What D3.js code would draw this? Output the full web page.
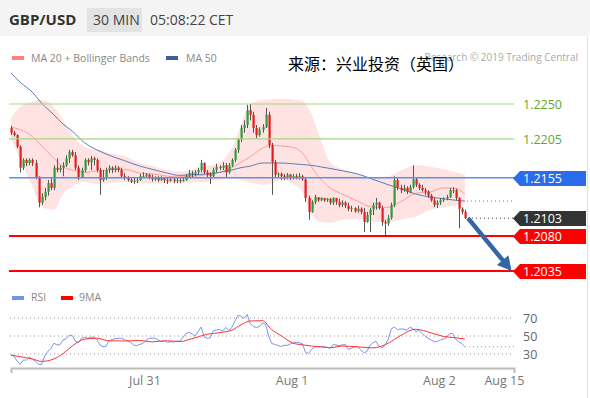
<!DOCTYPE html>
<html>
<head>
<meta charset="utf-8">
<script src="https://cdn.jsdelivr.net/npm/d3@7"></script>
<style>
html, body { margin: 0; padding: 0; background: #fff; }
svg { display: block; font-family: "Open Sans", "DejaVu Sans", sans-serif; }
</style>
</head>
<body>
<svg id="chart" width="590" height="398"></svg>
<script>
// ---- data (GBP/USD, 30 min candles) ----
var firstOpen = 1.2219;
var closes = [
  1.2213, 1.2210, 1.2195, 1.2168, 1.2178, 1.2174, 1.2178, 1.2174, 1.2156, 1.2123,
  1.2130, 1.2137, 1.2148, 1.2142, 1.2168, 1.2165, 1.2168, 1.2171, 1.2180, 1.2188,
  1.2184, 1.2168, 1.2156, 1.2165, 1.2178, 1.2175, 1.2180, 1.2178, 1.2165, 1.2152,
  1.2156, 1.2165, 1.2168, 1.2165, 1.2168, 1.2165, 1.2157, 1.2155, 1.2152, 1.2150,
  1.2151, 1.2152, 1.2157, 1.2157, 1.2159, 1.2156, 1.2153, 1.2155, 1.2152, 1.2155,
  1.2152, 1.2151, 1.2153, 1.2151, 1.2152, 1.2151, 1.2152, 1.2157, 1.2161, 1.2160,
  1.2162, 1.2165, 1.2174, 1.2162, 1.2159, 1.2157, 1.2165, 1.2169, 1.2168, 1.2171,
  1.2162, 1.2171, 1.2178, 1.2191, 1.2204, 1.2219, 1.2223, 1.2242, 1.2236, 1.2219,
  1.2210, 1.2217, 1.2220, 1.2236, 1.2197, 1.2175, 1.2159, 1.2160, 1.2157, 1.2156,
  1.2159, 1.2155, 1.2157, 1.2156, 1.2157, 1.2153, 1.2129, 1.2111, 1.2124, 1.2130,
  1.2126, 1.2129, 1.2126, 1.2128, 1.2123, 1.2129, 1.2124, 1.2120, 1.2123, 1.2119,
  1.2115, 1.2116, 1.2112, 1.2115, 1.2111, 1.2098, 1.2107, 1.2114, 1.2120, 1.2123,
  1.2116, 1.2098, 1.2096, 1.2103, 1.2120, 1.2152, 1.2142, 1.2139, 1.2142, 1.2137,
  1.2143, 1.2153, 1.2146, 1.2142, 1.2139, 1.2137, 1.2132, 1.2126, 1.2120, 1.2123,
  1.2126, 1.2128, 1.2130, 1.2139, 1.2139, 1.2129, 1.2115, 1.2111, 1.2103
];
var highs = [
  1.2222, 1.2215, 1.2211, 1.2197, 1.2180, 1.2180, 1.2180, 1.2180, 1.2178, 1.2157,
  1.2135, 1.2142, 1.2152, 1.2155, 1.2171, 1.2180, 1.2171, 1.2175, 1.2184, 1.2191,
  1.2191, 1.2188, 1.2171, 1.2168, 1.2180, 1.2180, 1.2183, 1.2182, 1.2180, 1.2168,
  1.2165, 1.2168, 1.2171, 1.2170, 1.2171, 1.2170, 1.2168, 1.2161, 1.2157, 1.2156,
  1.2155, 1.2155, 1.2160, 1.2162, 1.2161, 1.2160, 1.2159, 1.2157, 1.2157, 1.2157,
  1.2156, 1.2155, 1.2156, 1.2155, 1.2155, 1.2155, 1.2156, 1.2160, 1.2165, 1.2164,
  1.2165, 1.2168, 1.2178, 1.2175, 1.2165, 1.2162, 1.2168, 1.2173, 1.2171, 1.2175,
  1.2174, 1.2174, 1.2180, 1.2193, 1.2206, 1.2223, 1.2229, 1.2249, 1.2250, 1.2240,
  1.2223, 1.2220, 1.2224, 1.2245, 1.2240, 1.2200, 1.2178, 1.2162, 1.2162, 1.2160,
  1.2161, 1.2160, 1.2160, 1.2160, 1.2161, 1.2159, 1.2156, 1.2132, 1.2126, 1.2133,
  1.2130, 1.2130, 1.2129, 1.2129, 1.2129, 1.2130, 1.2129, 1.2128, 1.2126, 1.2125,
  1.2123, 1.2119, 1.2117, 1.2119, 1.2117, 1.2116, 1.2111, 1.2116, 1.2123, 1.2129,
  1.2124, 1.2119, 1.2101, 1.2107, 1.2123, 1.2157, 1.2156, 1.2146, 1.2146, 1.2144,
  1.2146, 1.2171, 1.2156, 1.2148, 1.2146, 1.2142, 1.2139, 1.2134, 1.2129, 1.2126,
  1.2129, 1.2130, 1.2133, 1.2142, 1.2143, 1.2141, 1.2130, 1.2117, 1.2114
];
var lows = [
  1.2210, 1.2208, 1.2193, 1.2162, 1.2165, 1.2170, 1.2171, 1.2170, 1.2153, 1.2117,
  1.2120, 1.2126, 1.2132, 1.2139, 1.2139, 1.2162, 1.2162, 1.2157, 1.2169, 1.2174,
  1.2182, 1.2165, 1.2152, 1.2155, 1.2162, 1.2171, 1.2165, 1.2171, 1.2162, 1.2133,
  1.2150, 1.2152, 1.2161, 1.2161, 1.2162, 1.2162, 1.2155, 1.2152, 1.2150, 1.2148,
  1.2147, 1.2148, 1.2151, 1.2155, 1.2155, 1.2153, 1.2150, 1.2151, 1.2150, 1.2151,
  1.2148, 1.2147, 1.2150, 1.2148, 1.2148, 1.2148, 1.2150, 1.2151, 1.2155, 1.2156,
  1.2157, 1.2159, 1.2162, 1.2160, 1.2156, 1.2147, 1.2156, 1.2162, 1.2165, 1.2165,
  1.2156, 1.2160, 1.2169, 1.2175, 1.2187, 1.2201, 1.2213, 1.2219, 1.2229, 1.2213,
  1.2206, 1.2208, 1.2213, 1.2219, 1.2193, 1.2133, 1.2156, 1.2155, 1.2152, 1.2152,
  1.2153, 1.2152, 1.2153, 1.2153, 1.2153, 1.2151, 1.2124, 1.2101, 1.2110, 1.2121,
  1.2124, 1.2125, 1.2124, 1.2124, 1.2120, 1.2120, 1.2120, 1.2117, 1.2117, 1.2116,
  1.2112, 1.2111, 1.2110, 1.2110, 1.2108, 1.2085, 1.2097, 1.2085, 1.2107, 1.2114,
  1.2114, 1.2093, 1.2079, 1.2093, 1.2101, 1.2117, 1.2139, 1.2135, 1.2137, 1.2134,
  1.2135, 1.2141, 1.2143, 1.2139, 1.2137, 1.2133, 1.2129, 1.2124, 1.2117, 1.2116,
  1.2120, 1.2124, 1.2126, 1.2129, 1.2135, 1.2126, 1.2090, 1.2108, 1.2102
];
var rsi = [
  28.9, 27.5, 22.0, 18.5, 23.3, 23.3, 26.5, 24.0, 22.0, 18.5,
  18.5, 28.0, 33.0, 36.0, 42.0, 40.0, 40.5, 45.5, 47.0, 51.0,
  50.5, 44.0, 42.5, 47.5, 48.5, 47.5, 48.3, 49.0, 46.0, 40.0,
  38.1, 38.5, 45.0, 46.0, 47.0, 47.4, 47.6, 46.0, 44.2, 43.0,
  40.0, 39.3, 40.7, 41.8, 45.0, 47.5, 47.6, 47.4, 45.5, 44.0,
  45.0, 43.0, 43.6, 43.2, 44.3, 44.4, 48.0, 52.5, 54.0, 52.5,
  50.0, 55.0, 60.0, 49.0, 47.4, 48.1, 56.0, 56.7, 57.3, 55.3,
  59.5, 56.5, 59.5, 66.5, 73.0, 72.0, 69.6, 74.0, 64.1, 60.5,
  59.5, 60.3, 64.5, 63.0, 50.0, 41.7, 40.7, 39.5, 38.3, 39.8,
  39.5, 41.0, 42.5, 43.0, 42.5, 41.5, 32.0, 30.5, 35.0, 38.0,
  38.1, 38.1, 38.1, 37.5, 36.3, 40.5, 40.0, 39.3, 40.2, 40.5,
  35.0, 36.5, 38.1, 38.1, 35.0, 31.5, 32.6, 39.5, 42.5, 44.2,
  38.5, 37.0, 40.0, 46.5, 58.0, 60.0, 57.0, 57.8, 57.8, 56.5,
  59.5, 58.5, 54.8, 56.5, 53.0, 49.5, 47.5, 45.5, 43.5, 44.0,
  45.6, 46.5, 48.5, 52.5, 53.0, 46.5, 43.5, 41.5, 38.1
];

// indicator lines, sampled at these candle indices
var indIdx = [0, 3, 7, 10, 14, 17, 20, 24, 28, 32, 37, 42, 46, 51, 55, 59, 64, 68, 72, 75,
  78, 82, 85, 88, 92, 95, 98, 101, 104, 108, 113, 118, 123, 127, 132, 137, 141, 145, 148];
var ma50 = [1.2290, 1.2278, 1.2265, 1.2251, 1.2236, 1.2224, 1.2215, 1.2200, 1.2191, 1.2184,
  1.2177, 1.2170, 1.2166, 1.2161, 1.2158, 1.2159, 1.2160, 1.2162, 1.2165, 1.2168,
  1.2170, 1.2174, 1.2174, 1.2174, 1.2173, 1.2172, 1.2171, 1.2169, 1.2167, 1.2164,
  1.2160, 1.2153, 1.2146, 1.2141, 1.2134, 1.2130, 1.2128, 1.2126, 1.2125];
var ma20 = [1.2220, 1.2217, 1.2208, 1.2196, 1.2180, 1.2169, 1.2165, 1.2162, 1.2164, 1.2165,
  1.2166, 1.2161, 1.2160, 1.2157, 1.2156, 1.2157, 1.2159, 1.2162, 1.2168, 1.2175,
  1.2182, 1.2193, 1.2197, 1.2196, 1.2194, 1.2187, 1.2169, 1.2153, 1.2142, 1.2134,
  1.2125, 1.2117, 1.2117, 1.2124, 1.2135, 1.2137, 1.2142, 1.2141, 1.2134];
var bbUpper = [1.2232, 1.2246, 1.2253, 1.2255, 1.2246, 1.2229, 1.2210, 1.2195, 1.2191, 1.2187,
  1.2183, 1.2174, 1.2170, 1.2165, 1.2163, 1.2165, 1.2170, 1.2175, 1.2193, 1.2223,
  1.2250, 1.2255, 1.2256, 1.2257, 1.2256, 1.2254, 1.2237, 1.2204, 1.2175, 1.2166,
  1.2160, 1.2155, 1.2157, 1.2164, 1.2171, 1.2169, 1.2166, 1.2162, 1.2159];
var bbLower = [1.2206, 1.2178, 1.2144, 1.2117, 1.2114, 1.2134, 1.2144, 1.2150, 1.2147, 1.2148,
  1.2150, 1.2148, 1.2148, 1.2148, 1.2148, 1.2149, 1.2150, 1.2152, 1.2154, 1.2152,
  1.2149, 1.2146, 1.2148, 1.2152, 1.2147, 1.2137, 1.2108, 1.2098, 1.2097, 1.2101,
  1.2102, 1.2099, 1.2098, 1.2101, 1.2105, 1.2114, 1.2117, 1.2120, 1.2123];
var rsiMa = [28.9, 27.0, 24.5, 21.8, 24.5, 30.5, 39.0, 46.5, 47.5, 44.6,
  44.5, 45.0, 43.5, 44.7, 43.8, 47.0, 52.0, 53.7, 56.5, 62.5,
  66.7, 67.0, 57.0, 50.5, 42.0, 40.2, 38.8, 38.0, 37.0, 38.8,
  38.0, 36.8, 42.0, 50.5, 57.5, 53.5, 49.5, 48.0, 46.7];

var tickIdx = [43.5, 91.5, 139.5, 160.7];
var tickLabels = ["Jul 31", "Aug 1", "Aug 2", "Aug 15"];
var levelPrices = [1.2250, 1.2205, 1.2155, 1.2103, 1.2080, 1.2035];
var levelKinds = ["res", "res", "ma", "last", "sup", "sup"];
var rsiLevels = [70, 50, 30];
var arrowFrom = { i: 149, p: 1.2103 };
var arrowTo = { i: 163.2, p: 1.2035 };

// ---- drawing ----
var W = 590, H = 398;
var svg = d3.select("#chart");

var x = d3.scaleLinear().domain([0, 164]).range([11, 514]);
var y = d3.scaleLinear().domain([1.2080, 1.2250]).range([236, 104]);
var yr = d3.scaleLinear().domain([30, 70]).range([354, 318]);

// header bar
svg.append("rect").attr("width", W).attr("height", 36).attr("fill", "#f4f4f4");
svg.append("text").attr("x", 9).attr("y", 25).text("GBP/USD")
  .attr("fill", "#333").style("font-size", "15px").style("font-weight", "bold");
svg.append("rect").attr("x", 87).attr("y", 8).attr("width", 55).attr("height", 24).attr("fill", "#e3e3e3");
svg.append("text").attr("x", 93).attr("y", 25).text("30 MIN").attr("fill", "#444").style("font-size", "14px");
svg.append("text").attr("x", 150).attr("y", 25).text("05:08:22 CET").attr("fill", "#444").style("font-size", "14px");
svg.append("line").attr("x1", 587.5).attr("x2", 587.5).attr("y1", 36).attr("y2", H)
  .attr("stroke", "#e2e2e2");

// legend
var legend = svg.append("g").style("font-size", "10.5px").attr("fill", "#888");
legend.append("rect").attr("x", 12).attr("y", 56).attr("width", 12).attr("height", 4).attr("fill", "#ff8080");
legend.append("text").attr("x", 31).attr("y", 62).text("MA 20 + Bollinger Bands");
legend.append("rect").attr("x", 166).attr("y", 56).attr("width", 12).attr("height", 4).attr("fill", "#3b5f9f");
legend.append("text").attr("x", 186).attr("y", 62).text("MA 50");

svg.append("text").attr("x", 578).attr("y", 61).attr("text-anchor", "end")
  .text("Research \u00a9 2019 Trading Central").attr("fill", "#aaa").style("font-size", "10px");
svg.append("text").attr("x", 288).attr("y", 70).text("来源：兴业投资（英国）")
  .attr("fill", "#000").style("font-size", "16px")
  .style("font-family", "'Noto Sans CJK SC', sans-serif");

// main panel
svg.append("clipPath").attr("id", "mainClip").append("rect")
  .attr("x", 9).attr("y", 72).attr("width", 505).attr("height", 215);
var main = svg.append("g").attr("clip-path", "url(#mainClip)");

var ind = indIdx.map(function (i, k) {
  return { i: i, ma20: ma20[k], ma50: ma50[k], up: bbUpper[k], lo: bbLower[k], rma: rsiMa[k] };
});

main.append("path").datum(ind)
  .attr("fill", "#ffd9d9").attr("fill-opacity", 0.75)
  .attr("d", d3.area().curve(d3.curveMonotoneX)
    .x(function (d) { return x(d.i); })
    .y0(function (d) { return y(d.lo); })
    .y1(function (d) { return y(d.up); }));

// horizontal levels
var levels = levelPrices.map(function (p, k) { return { p: p, kind: levelKinds[k] }; });
var lineColor = { res: "#a5d57f", ma: "#5b8ff0", sup: "#ff0000" };
var lineWidth = { res: 1.2, ma: 1.5, sup: 2 };
svg.append("g").selectAll("line")
  .data(levels.filter(function (d) { return d.kind !== "last"; }))
  .join("line")
  .attr("x1", 9).attr("x2", 514)
  .attr("y1", function (d) { return y(d.p); })
  .attr("y2", function (d) { return y(d.p); })
  .attr("stroke", function (d) { return lineColor[d.kind]; })
  .attr("stroke-width", function (d) { return lineWidth[d.kind]; });

// moving averages
main.append("path").datum(ind)
  .attr("fill", "none").attr("stroke", "#ff9a9a").attr("stroke-width", 1)
  .attr("d", d3.line().curve(d3.curveMonotoneX)
    .x(function (d) { return x(d.i); }).y(function (d) { return y(d.ma20); }));
main.append("path").datum(ind)
  .attr("fill", "none").attr("stroke", "#5a7cbc").attr("stroke-width", 1)
  .attr("d", d3.line().curve(d3.curveMonotoneX)
    .x(function (d) { return x(d.i); }).y(function (d) { return y(d.ma50); }));

// candles
var candles = closes.map(function (c, i) {
  return { i: i, o: i ? closes[i - 1] : firstOpen, c: c, h: highs[i], l: lows[i] };
});
var cg = main.append("g").selectAll("g").data(candles).join("g");
cg.append("line")
  .attr("x1", function (d) { return Math.round(x(d.i)) + 0.5; })
  .attr("x2", function (d) { return Math.round(x(d.i)) + 0.5; })
  .attr("y1", function (d) { return y(d.h); })
  .attr("y2", function (d) { return y(d.l); })
  .attr("stroke", "#555").attr("stroke-width", 1);
cg.append("rect")
  .attr("x", function (d) { return Math.round(x(d.i)) - 0.5; })
  .attr("width", 2.2)
  .attr("y", function (d) { return y(Math.max(d.o, d.c)); })
  .attr("height", function (d) { return Math.max(1, Math.abs(y(d.o) - y(d.c))); })
  .attr("fill", function (d) { return d.c >= d.o ? "#2f9a3a" : "#e41c1c"; });

// projections from the last candle
var last = ind[ind.length - 1];
svg.append("line").attr("x1", x(last.i) + 2).attr("x2", 514)
  .attr("y1", y(last.ma50)).attr("y2", y(last.ma50))
  .attr("stroke", "#5a7cbc").attr("stroke-dasharray", "1,3");
svg.append("line").attr("x1", x(148) + 3).attr("x2", 514)
  .attr("y1", y(closes[148])).attr("y2", y(closes[148]))
  .attr("stroke", "#333").attr("stroke-dasharray", "1,3");

// level labels on the right
var boxColor = { ma: "#2b6cec", last: "#333333", sup: "#ff0000" };
var lab = svg.append("g").style("font-size", "12.5px");
levels.forEach(function (d) {
  var cy = Math.round(y(d.p)) + 0.5;
  if (d.kind === "res") {
    lab.append("text").attr("x", 523).attr("y", cy + 4.5).text(d.p.toFixed(4)).attr("fill", "#5ea82d");
  } else {
    lab.append("path")
      .attr("d", "M513," + cy + "L520," + (cy - 7.5) + "L586," + (cy - 7.5) + "L586," + (cy + 7.5) + "L520," + (cy + 7.5) + "Z")
      .attr("fill", boxColor[d.kind]);
    lab.append("text").attr("x", 523).attr("y", cy + 4.5).text(d.p.toFixed(4)).attr("fill", "#fff");
  }
});

// forecast arrow
var ax0 = x(arrowFrom.i), ay0 = y(arrowFrom.p), ax1 = x(arrowTo.i), ay1 = y(arrowTo.p);
var len = Math.hypot(ax1 - ax0, ay1 - ay0), ux = (ax1 - ax0) / len, uy = (ay1 - ay0) / len;
var headL = 14, headW = 7.5;
svg.append("line").attr("x1", ax0).attr("y1", ay0)
  .attr("x2", ax1 - ux * (headL - 2)).attr("y2", ay1 - uy * (headL - 2))
  .attr("stroke", "#3566a6").attr("stroke-width", 4.5);
svg.append("path")
  .attr("d", "M" + ax1 + "," + ay1 +
    "L" + (ax1 - ux * headL - uy * headW) + "," + (ay1 - uy * headL + ux * headW) +
    "L" + (ax1 - ux * headL + uy * headW) + "," + (ay1 - uy * headL - ux * headW) + "Z")
  .attr("fill", "#3566a6");

// RSI panel
var rl = svg.append("g").style("font-size", "10.5px").attr("fill", "#888");
rl.append("rect").attr("x", 12).attr("y", 296).attr("width", 12).attr("height", 4).attr("fill", "#7094e6");
rl.append("text").attr("x", 31).attr("y", 301).text("RSI");
rl.append("rect").attr("x", 61).attr("y", 296).attr("width", 12).attr("height", 4).attr("fill", "#ff0000");
rl.append("text").attr("x", 79).attr("y", 301).text("9MA");

svg.append("g").selectAll("line").data(rsiLevels).join("line")
  .attr("x1", 10).attr("x2", 514)
  .attr("y1", function (d) { return yr(d); }).attr("y2", function (d) { return yr(d); })
  .attr("stroke", "#999").attr("stroke-dasharray", "1,3");
svg.append("g").selectAll("text").data(rsiLevels).join("text")
  .attr("x", 523).attr("y", function (d) { return yr(d) + 4.5; })
  .text(function (d) { return d; })
  .attr("fill", "#666").style("font-size", "12.5px");

svg.append("path").datum(rsi)
  .attr("fill", "none").attr("stroke", "#7897e8").attr("stroke-width", 1)
  .attr("d", d3.line().x(function (d, i) { return x(i); }).y(function (d) { return yr(d); }));
svg.append("line").attr("x1", x(148)).attr("x2", 514)
  .attr("y1", yr(rsi[148])).attr("y2", yr(rsi[148]))
  .attr("stroke", "#7897e8").attr("stroke-dasharray", "1,3");
svg.append("path").datum(ind)
  .attr("fill", "none").attr("stroke", "#ff3333").attr("stroke-width", 1)
  .attr("d", d3.line().curve(d3.curveMonotoneX)
    .x(function (d) { return x(d.i); }).y(function (d) { return yr(d.rma); }));

// time axis
var xAxis = d3.axisBottom(x)
  .tickValues(tickIdx)
  .tickFormat(function (d, k) { return tickLabels[k]; })
  .tickSizeInner(0).tickSizeOuter(5).tickPadding(8);
var axg = svg.append("g").attr("transform", "translate(0,368)").call(xAxis);
axg.select(".domain").attr("stroke", "#bbb").attr("stroke-width", 2);
axg.selectAll("text").attr("fill", "#777").style("font-size", "12.5px")
  .style("font-family", "'Open Sans', sans-serif");
</script>
</body>
</html>
